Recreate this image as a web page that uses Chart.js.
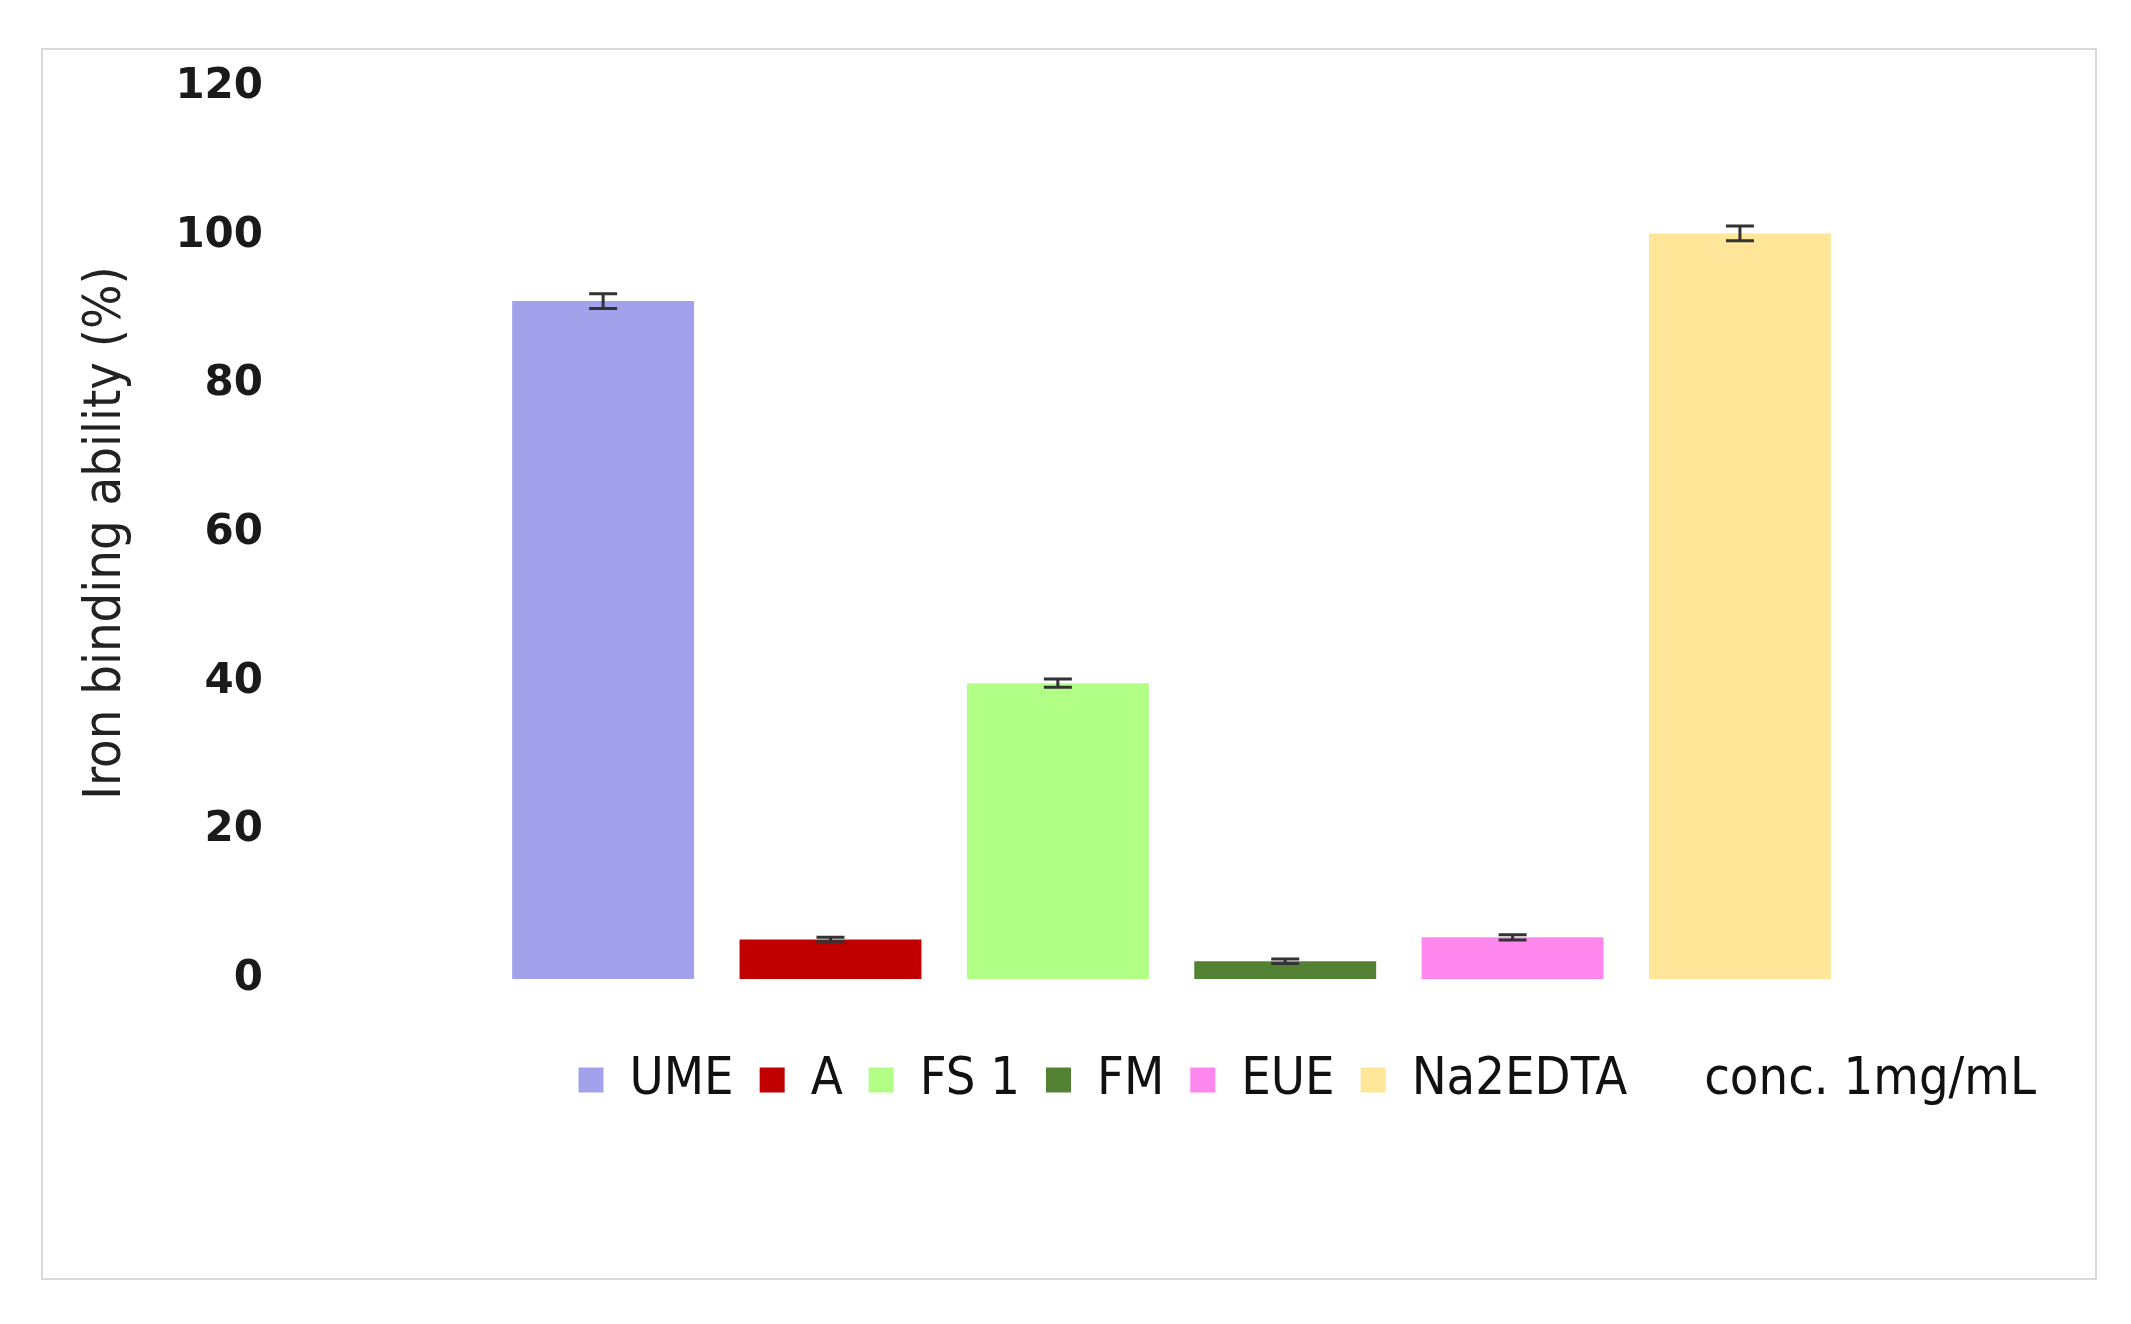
<!DOCTYPE html>
<html>
<head>
<meta charset="utf-8">
<script src="https://cdn.jsdelivr.net/npm/chart.js@4.4.1/dist/chart.umd.min.js"></script>
<style>
  html, body { margin: 0; padding: 0; background: #fff; }
  #frame { position: absolute; left: 41px; top: 48px; width: 2052px; height: 1228px; border: 2px solid #d9d9d9; }
  #wrap { position: absolute; left: 0; top: 0; width: 2131px; height: 1324px; }
</style>
</head>
<body>
<div id="frame"></div>
<div id="wrap"><canvas id="ironChart"></canvas></div>
<script>
// samples
const seriesNames = ['UME', 'A', 'FS 1', 'FM', 'EUE', 'Na2EDTA'];
const bindingValues = [91.2, 5.3, 39.8, 2.4, 5.6, 100.3];
const bindingErrors = [1.0, 0.3, 0.55, 0.3, 0.35, 1.0];
const yTicks = [0, 20, 40, 60, 80, 100, 120];
const extraLegendText = 'conc. 1mg/mL';

const seriesColors = ['#a2a2ec', '#c00000', '#b2ff88', '#548235', '#ff88ee', '#ffe699'];

const narrowFont = '"Liberation Sans Narrow", "DejaVu Sans Condensed", sans-serif';

// error bars on top of each bar
const errorBars = {
  id: 'errorBars',
  afterDatasetsDraw(chart) {
    const ctx = chart.ctx;
    const y = chart.scales.y;
    ctx.save();
    ctx.strokeStyle = '#333333';
    ctx.lineWidth = 3;
    chart.data.datasets.forEach((ds, i) => {
      const bar = chart.getDatasetMeta(i).data[0];
      if (!bar) return;
      const v = ds.data[0];
      const e = bindingErrors[i];
      const top = y.getPixelForValue(v + e);
      const bot = y.getPixelForValue(v - e);
      const half = 14;
      ctx.beginPath();
      ctx.moveTo(bar.x, top); ctx.lineTo(bar.x, bot);
      ctx.moveTo(bar.x - half, top); ctx.lineTo(bar.x + half, top);
      ctx.moveTo(bar.x - half, bot); ctx.lineTo(bar.x + half, bot);
      ctx.stroke();
    });
    ctx.restore();
  }
};

const datasets = seriesNames.map((name, i) => ({
  label: name,
  data: [bindingValues[i]],
  backgroundColor: seriesColors[i],
  borderWidth: 0
}));

new Chart(document.getElementById('ironChart'), {
  type: 'bar',
  data: { labels: [''], datasets: datasets },
  options: {
    responsive: true,
    maintainAspectRatio: false,
    animation: false,
    categoryPercentage: 0.766,
    barPercentage: 0.8,
    layout: { padding: { left: 65, right: 69, top: 87, bottom: 208 } },
    plugins: {
      tooltip: { enabled: false },
      legend: {
        position: 'bottom',
        align: 'end',
        labels: {
          boxWidth: 25,
          boxHeight: 25,
          padding: 26,
          color: '#111',
          font: { family: narrowFont, size: 52 },
          generateLabels(chart) {
            const items = Chart.defaults.plugins.legend.labels.generateLabels(chart);
            items.push({
              text: extraLegendText,
              fillStyle: 'rgba(0,0,0,0)',
              strokeStyle: 'rgba(0,0,0,0)',
              lineWidth: 0,
              hidden: false,
              datasetIndex: -1
            });
            return items;
          }
        }
      }
    },
    scales: {
      x: {
        grid: { display: false },
        border: { display: false },
        ticks: { display: false },
        afterFit(scale) { scale.height = 49; }
      },
      y: {
        min: 0,
        max: 120,
        afterBuildTicks(scale) { scale.ticks = yTicks.map(v => ({ value: v })); },
        grid: { display: false },
        border: { display: false },
        ticks: {
          padding: 10,
          color: '#1a1a1a',
          font: { family: '"DejaVu Sans"', size: 42, weight: 'bold' }
        },
        title: {
          display: true,
          text: 'Iron binding ability (%)',
          color: '#222',
          padding: { top: 10, bottom: 28 },
          font: { family: narrowFont, size: 52 }
        }
      }
    }
  },
  plugins: [errorBars]
});
</script>
</body>
</html>
